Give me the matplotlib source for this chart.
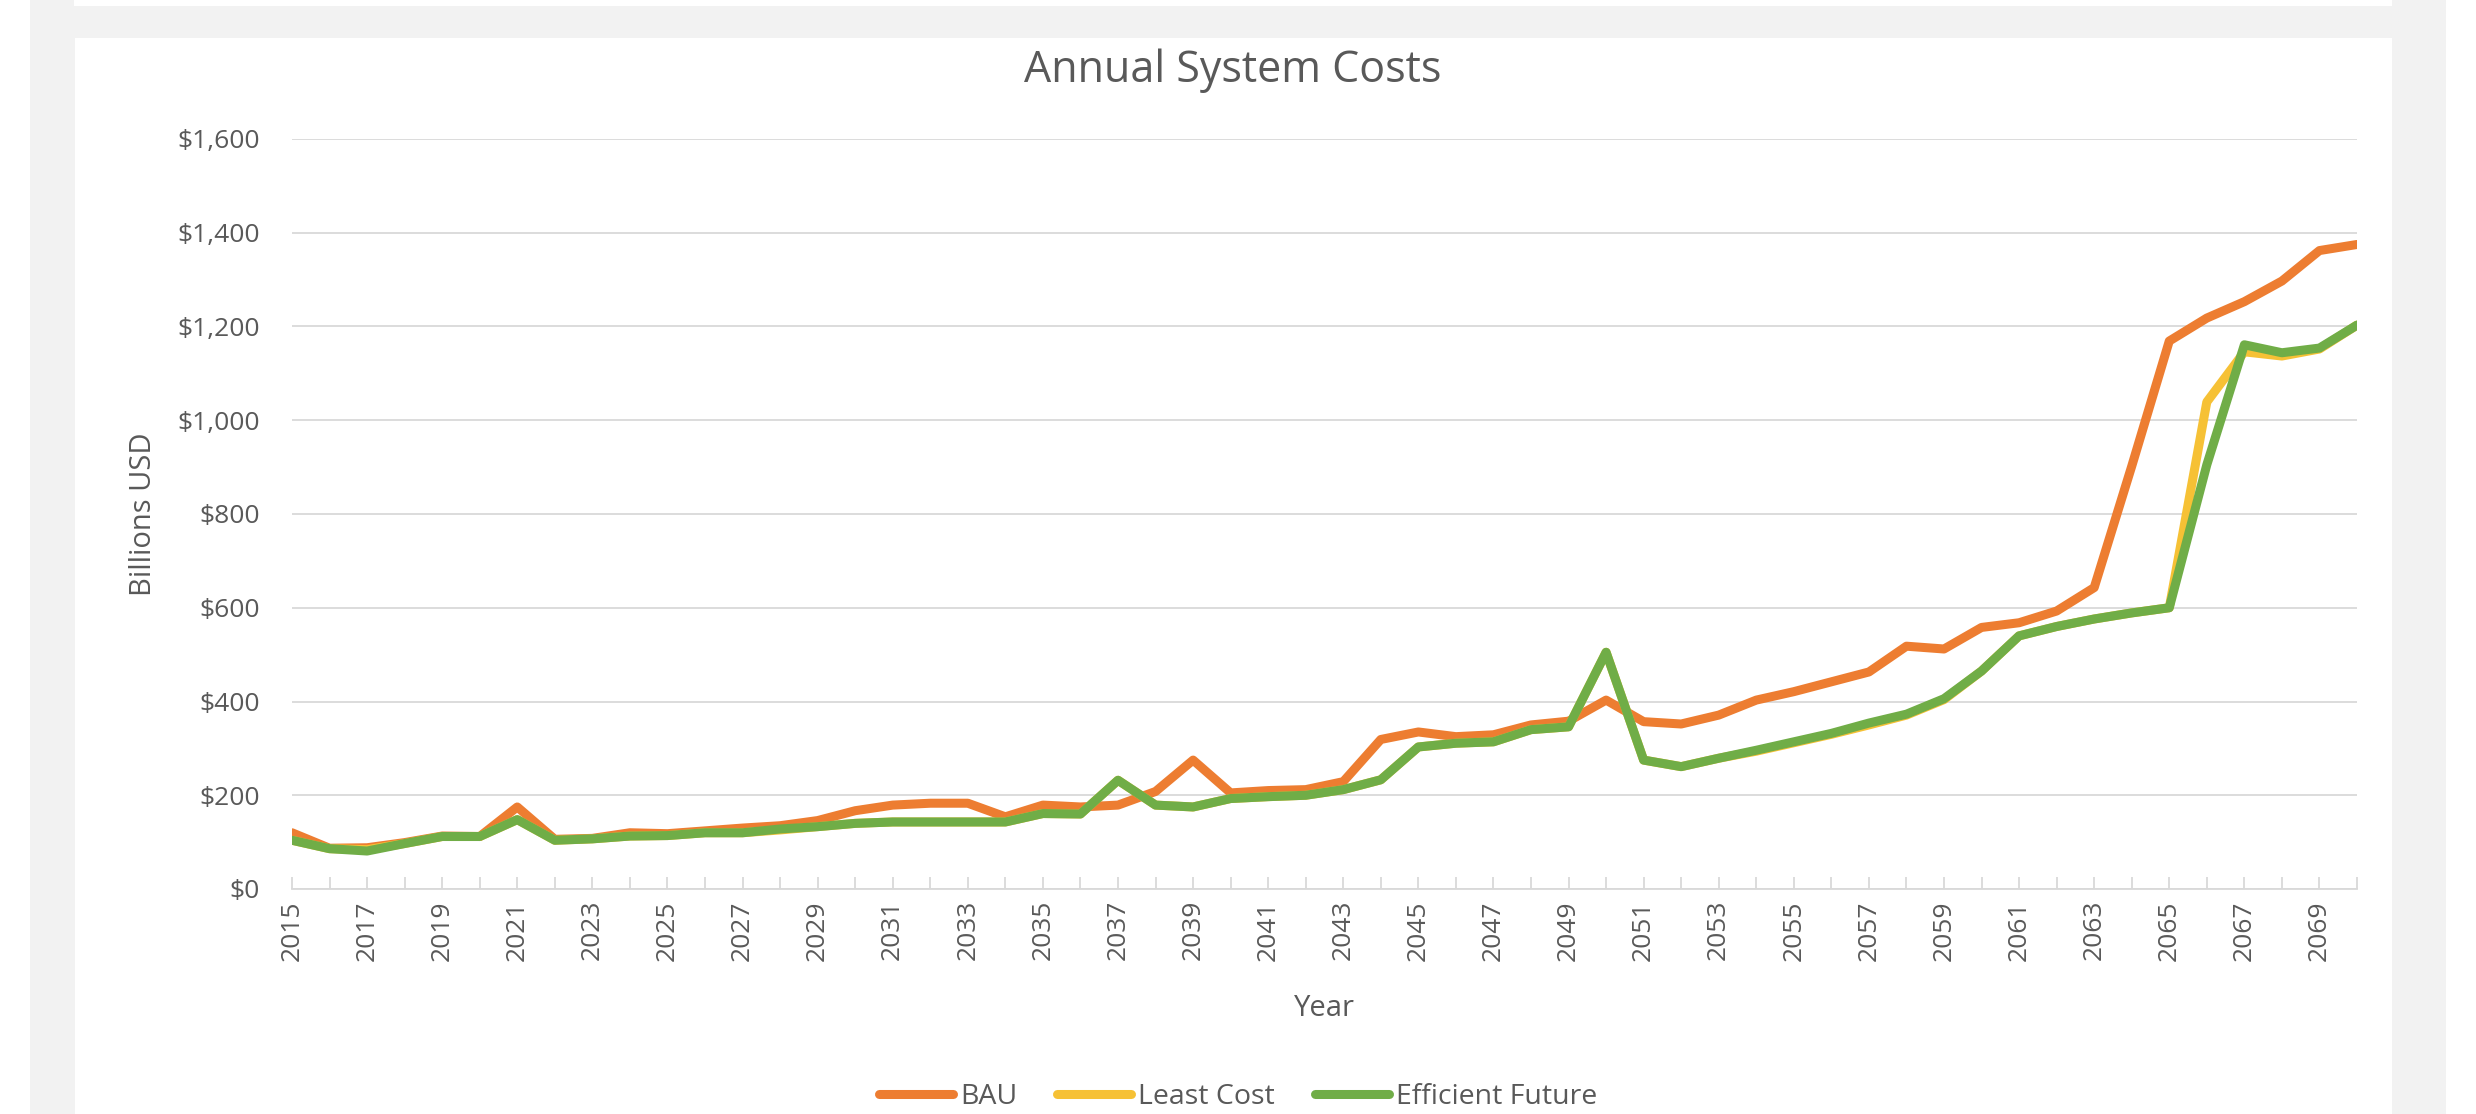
import matplotlib
matplotlib.use("Agg")
import matplotlib.pyplot as plt
from matplotlib.patches import Rectangle
from matplotlib.ticker import FuncFormatter, MultipleLocator


# 数据（十亿美元）
years = list(range(2015, 2071))
bau = [120, 87, 88, 99, 113, 112, 175, 106, 108, 120,
       118, 124, 130, 135, 146, 167, 179, 183, 183, 154,
       179, 175, 179, 208, 275, 205, 210, 212, 229, 319,
       335, 325, 329, 350, 358, 403, 357, 352, 371, 403,
       421, 442, 463, 518, 512, 558, 568, 593, 643, 902,
       1169, 1218, 1253, 1297, 1362, 1375]
least_cost = [104, 86, 84, 97, 112, 112, 148, 104, 107, 113,
              114, 120, 120, 126, 133, 140, 143, 143, 143, 143,
              161, 160, 232, 179, 175, 193, 197, 200, 212, 233,
              303, 311, 314, 340, 346, 505, 275, 261, 279, 294,
              312, 330, 350, 371, 404, 465, 540, 560, 576, 589,
              600, 1039, 1146, 1137, 1152, 1203]
efficient = [104, 86, 81, 97, 112, 112, 148, 104, 107, 113,
             114, 120, 120, 128, 133, 140, 143, 143, 143, 143,
             161, 160, 232, 179, 175, 193, 197, 200, 212, 233,
             303, 311, 314, 340, 346, 505, 275, 261, 279, 296,
             314, 332, 354, 373, 406, 465, 540, 560, 576, 589,
             600, 905, 1161, 1144, 1154, 1203]
series_names = ["BAU", "Least Cost", "Efficient Future"]
series_colors = ["#ED7D31", "#F6C135", "#70AD47"]

W, H = 2476, 1114
txt_color = "#595959"
grid_color = "#d9d9d9"
plt.rcParams["font.family"] = ["Open Sans", "DejaVu Sans"]

fig = plt.figure(figsize=(W / 100, H / 100), dpi=100, facecolor="#f2f2f2")

# 背景的白色区域（像素坐标 -> 图形比例）
def px_rect(x0, y0, x1, y1):
	return Rectangle((x0 / W, 1 - y1 / H), (x1 - x0) / W, (y1 - y0) / H,
	                 transform=fig.transFigure, facecolor="white", edgecolor="none", zorder=-5)

fig.patches.append(px_rect(0, 0, 30, H))
fig.patches.append(px_rect(2446, 0, W, H))
fig.patches.append(px_rect(74, 0, 2392, 6))
fig.patches.append(px_rect(75, 38, 2392, H))

# 绘图区
ax = fig.add_axes([292 / W, 1 - 889 / H, 2065 / W, 750 / H])
ax.set_zorder(2)
ax.set_facecolor("white")
for name, vals, c in zip(series_names, [bau, least_cost, efficient], series_colors):
	ax.plot(years, vals, color=c, lw=6.5, label=name,
	        solid_capstyle="round", solid_joinstyle="round")

ax.set_xlim(2015, 2070)
ax.set_ylim(0, 1600)
ax.yaxis.set_major_locator(MultipleLocator(200))
ax.yaxis.set_major_formatter(FuncFormatter(lambda v, p: "${:,.0f}".format(v)))
ax.set_xticks(years)
ax.set_xticklabels([str(y) if (y - 2015) % 2 == 0 else "" for y in years], rotation=90)

ax.grid(axis="y", color=grid_color, lw=1.3)
ax.set_axisbelow(True)
for s in ["top", "right", "left"]:
	ax.spines[s].set_visible(False)
ax.spines["bottom"].set_color(grid_color)
ax.spines["bottom"].set_linewidth(1.3)
ax.tick_params(axis="x", direction="in", length=9, width=1.3, color=grid_color,
               labelsize=19, labelcolor=txt_color, pad=8)
ax.tick_params(axis="y", length=0, labelsize=19, labelcolor=txt_color, pad=23)

ax.set_xlabel("Year", fontsize=21, color=txt_color, labelpad=24)
ax.set_ylabel("Billions USD", fontsize=21, color=txt_color, labelpad=14)

fig.text(1233 / W, 1 - 71 / H, "Annual System Costs", ha="center", va="center",
         fontsize=31, color=txt_color)

fig.legend(loc="center", bbox_to_anchor=(1238 / W, 1 - 1097 / H), ncol=3, frameon=False,
           fontsize=20.5, labelcolor=txt_color, handlelength=2.6, handletextpad=0.25,
           columnspacing=1.4)

fig.savefig("out.png", dpi=100, facecolor=fig.get_facecolor())
